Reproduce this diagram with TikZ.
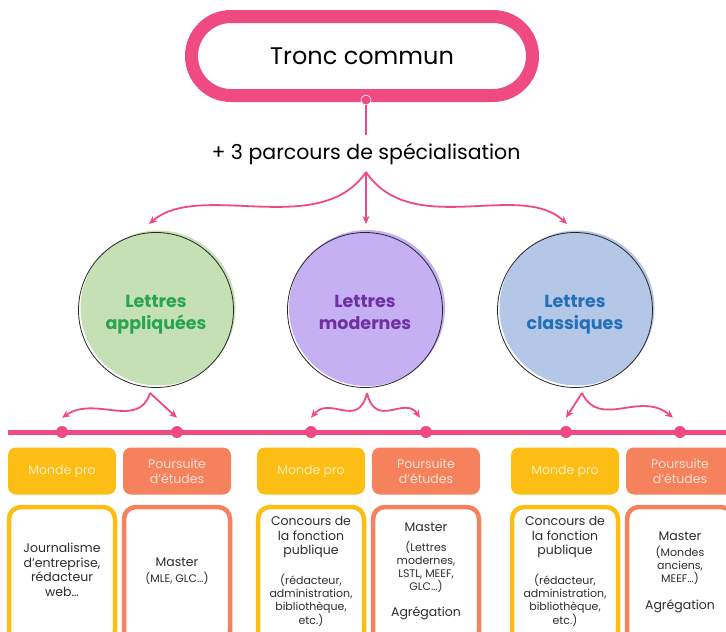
\documentclass[tikz,border=0pt]{standalone}
\usepackage{fontspec}
\setmainfont{Poppins}
\usetikzlibrary{arrows.meta}
\definecolor{rose}{RGB}{240,74,130}
\definecolor{vertfond}{RGB}{197,224,180}
\definecolor{verttexte}{RGB}{40,165,80}
\definecolor{violetfond}{RGB}{196,176,242}
\definecolor{violettexte}{RGB}{112,48,160}
\definecolor{bleufond}{RGB}{180,199,231}
\definecolor{bleutexte}{RGB}{35,112,185}
\definecolor{jaune}{RGB}{252,190,20}
\definecolor{corail}{RGB}{245,130,92}
\definecolor{gristexte}{RGB}{45,45,45}

\begin{document}
\begin{tikzpicture}[x=1pt, y=-1pt,
pill/.style={draw=rose, line width=13pt, rounded corners=39.5pt, minimum width=341pt, minimum height=79pt, font=\fontsize{24}{28}\selectfont},
parc/.style={circle, draw=black!85, line width=0.8pt, minimum size=155pt, inner sep=0pt, align=center, font=\fontsize{17.5}{22}\selectfont\bfseries},
arr/.style={draw=rose, line width=1.8pt, -{Stealth[length=8pt,width=7pt]}},
dot/.style={circle, fill=rose, inner sep=0pt, minimum size=12pt},
tete/.style={rounded corners=8pt, minimum width=108pt, minimum height=47pt, align=center, font=\fontsize{12.5}{15}\selectfont},
cadre/.style={draw, rounded corners=12pt, line width=4.5pt, minimum width=106pt, minimum height=136pt},
txt/.style={align=center, text=gristexte, font=\fontsize{12.5}{14.5}\selectfont},
petit/.style={align=center, text=gristexte, font=\fontsize{11}{13}\selectfont}
]
\useasboundingbox (0,0) rectangle (726,632);

% tronc commun
\node[pill] (tronc) at (362,56) {Tronc commun};
\node[circle, fill=rose, draw=white, line width=0.6pt, inner sep=0pt, minimum size=10pt] (attache) at (366,100) {};
\coordinate (bas) at (366,135);
\draw[rose, line width=2.5pt] (attache) -- (bas);
\node[font=\fontsize{20.5}{25}\selectfont] (spe) at (366,154) {+ 3 parcours de spécialisation};

% les trois parcours
\fill[vertfond] (158,308) circle (77.5);
\fill[violetfond] (367,308) circle (78);
\fill[bleufond] (577,308) circle (77.5);
\node[parc, text=verttexte] (appl) at (156,310) {\rule{0pt}{23pt}Lettres\\appliquées\strut};
\node[parc, text=violettexte] (mod) at (365,310) {\rule{0pt}{23pt}Lettres\\modernes\strut};
\node[parc, text=bleutexte] (class) at (575,310) {\rule{0pt}{23pt}Lettres\\classiques\strut};

\coordinate (fourche) at (366,172);
\coordinate (versappl) at (149,224);
\coordinate (versmod) at (366,224);
\coordinate (versclass) at (567,224);
\draw[arr] (fourche) .. controls (320,240) and (200,180) .. (versappl);
\draw[arr] (fourche) -- (versmod);
\draw[arr] (fourche) .. controls (412,240) and (520,180) .. (versclass);

% ligne du bas
\coordinate (rail0) at (8,432);
\coordinate (rail1) at (726,432);
\draw[rose, line width=5pt] (rail0) -- (rail1);
\foreach \x/\n in {62/d1, 177/d2, 311/d3, 426/d4, 566/d5, 680/d6}
  \node[dot] (\n) at (\x,432) {};

\coordinate (sappl) at (150,393);
\coordinate (smod) at (367,393);
\coordinate (sclass) at (582,393);
\draw[arr] (sappl) .. controls (138,430) and (95,395) .. ([yshift=8pt]d1.north);
\draw[arr] (sappl) -- ([yshift=8pt]d2.north);
\draw[arr] (smod) .. controls (358,430) and (330,395) .. ([yshift=8pt]d3.north);
\draw[arr] (smod) .. controls (376,430) and (405,395) .. ([xshift=-6pt,yshift=8pt]d4.north);
\draw[arr] (sclass) -- ([yshift=8pt]d5.north);
\draw[arr] (sclass) .. controls (600,430) and (640,390) .. ([xshift=-7pt,yshift=8pt]d6.north);

% debouches
\foreach \x/\n in {62/1, 311/2, 565/3}{
  \node[tete, fill=jaune, text=jaune!30] (pro\n) at (\x,471) {Monde pro};
  \node[cadre, draw=jaune] (boxpro\n) at (\x,575) {};
}
\foreach \x/\n in {177/1, 426/2, 680/3}{
  \node[tete, fill=corail, text=corail!25] (etu\n) at (\x,471) {Poursuite\\d’études};
  \node[cadre, draw=corail] (boxetu\n) at (\x,575) {};
}

\node[txt] (jour) at (62,570) {Journalisme\\d’entreprise,\\rédacteur\\web…};
\node[txt] (mast1) at (177,562) {Master};
\node[petit] (mle) at (177,578) {(MLE, GLC…)};

\foreach \x/\n in {311/2, 565/3}{
  \node[txt] (conc\n) at (\x,537) {Concours de\\la fonction\\publique};
  \node[petit] (redac\n) at (\x,600) {(rédacteur,\\administration,\\bibliothèque,\\etc.)};
}

\node[txt] (mast2) at (426,527) {Master};
\node[petit] (lm) at (426,567) {(Lettres\\modernes,\\LSTL, MEEF,\\GLC…)};
\node[txt] (agr2) at (426,613) {Agrégation};

\node[txt] (mast3) at (680,536) {Master};
\node[petit] (ma) at (680,565) {(Mondes\\anciens,\\MEEF…)};
\node[txt] (agr3) at (680,606) {Agrégation};
\end{tikzpicture}
\end{document}
